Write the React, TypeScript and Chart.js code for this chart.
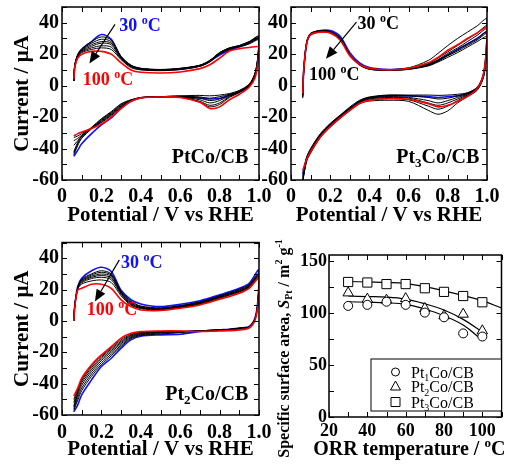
import React, { useEffect, useRef } from 'react';
import { Chart, registerables } from 'chart.js';
Chart.register(...registerables);

const FONT = '"Liberation Serif", "Times New Roman", Times, serif';
const BLUE = '#1010ff';
const RED = '#ff0000';

// ---------- CV data (current in µA) ----------
const temperatures = [30, 40, 50, 60, 70, 80, 90, 100];
const xAnodic = [0.06, 0.065, 0.08, 0.1, 0.15, 0.2, 0.25, 0.3, 0.35, 0.4, 0.5, 0.6, 0.7, 0.75, 0.8, 0.85, 0.9, 0.95, 1.0];
const xCathodic = [1.0, 0.995, 0.98, 0.95, 0.9, 0.85, 0.8, 0.75, 0.7, 0.6, 0.5, 0.4, 0.35, 0.3, 0.25, 0.2, 0.15, 0.1, 0.08, 0.06];

const ptcoAnodic = [
  [3, 12, 19, 23, 28, 32.5, 29.5, 18, 12.5, 10.5, 9.8, 10.5, 12.5, 15.5, 19.5, 22.5, 24.5, 27, 30],
  [3, 13, 20, 23.5, 28, 31, 29, 18.5, 13, 11, 10.3, 11, 13, 16, 21, 24, 25.5, 28, 31.5],
  [3, 13, 19.5, 23, 27, 29.5, 28, 18.5, 13, 11, 10.2, 11, 13, 16, 21, 24, 25.5, 28, 31],
  [3, 13, 19.5, 22.5, 26, 28, 27, 18, 12.5, 10.8, 10, 10.8, 12.8, 15.8, 20.8, 23.8, 25.2, 27.8, 30.5],
  [3, 13, 19, 22, 25, 27, 26, 17.5, 12.5, 10.8, 10, 10.7, 12.7, 15.5, 20.5, 23.5, 25, 27.5, 30],
  [3, 12.5, 18.5, 21.5, 24, 25.3, 24.5, 17, 12, 10.5, 9.8, 10.5, 12.5, 15.3, 20.2, 23.3, 25, 27, 29.5],
  [3, 12.5, 18, 21, 23, 24, 23, 16.5, 11.5, 10, 9.5, 10.2, 12.3, 15, 20, 23, 24.8, 26.5, 29],
  [4, 12, 17.5, 20, 21.8, 21.8, 20, 14.5, 10, 8.5, 8, 8.7, 10.8, 13.3, 17.5, 22, 23.5, 24.2, 24.5],
];
const ptcoCathodic = [
  [30, 18, 7, 0, -4, -6, -8, -8.5, -7.8, -7, -7.2, -7.8, -10, -14.5, -20.5, -25, -30.5, -37, -41, -45],
  [31.5, 19, 8, 1, -3, -5, -6, -6.5, -6.2, -6.5, -7, -7.5, -9, -11.5, -16.5, -21, -26.5, -32, -36, -42],
  [31, 19, 8, 0.5, -3.5, -5.5, -7, -8, -7.2, -6.7, -7, -7.6, -9.2, -12, -17, -21.5, -27, -33, -37, -43],
  [30.5, 18, 7, 0.5, -3.5, -6, -8.5, -9.5, -8, -7, -7.1, -7.7, -9.4, -12.5, -17.5, -22, -27.5, -33.5, -38, -44],
  [30, 18, 7, 0, -4, -6.5, -9.5, -11, -9, -7.2, -7.1, -7.7, -9.5, -13, -18, -22.5, -27, -32, -35, -38],
  [29.5, 18, 6.5, 0, -4, -7, -11, -12.5, -10, -7.3, -7.2, -7.8, -9.7, -13.5, -18.5, -23, -27, -31.5, -33.5, -35],
  [29, 17, 6, -0.5, -4.5, -7.5, -12, -13.5, -10.5, -7.4, -7.2, -7.8, -9.8, -14, -19, -23.5, -27, -30.5, -32, -33],
  [24.5, 15, 5, -1, -5.5, -9, -13.5, -14.5, -10.5, -7.5, -7.2, -7.8, -10, -14.5, -20, -24.5, -27.3, -29.5, -30.5, -32],
];

const pt3coAnodic = [
  [-5, 10, 27, 33, 35, 35, 31.5, 21, 14.5, 11.5, 10.3, 11, 13.5, 16, 19.5, 23, 26.5, 30, 34],
  [-5, 11, 28, 33, 35, 34.5, 30.5, 19.5, 13.5, 11, 10.2, 11.3, 16, 20.5, 25.5, 30, 34, 38, 42.5],
  [-6, 10, 27.5, 33, 35, 34.5, 30.5, 20, 13.8, 11, 10, 11, 14, 17.5, 21.5, 25.5, 29.5, 33.5, 38],
  [-6, 10, 27.5, 33, 34.8, 34, 30, 19.5, 13.5, 10.8, 10, 10.8, 13.5, 16.5, 20.5, 24, 28, 32, 36],
  [-7, 9, 27, 32.5, 34.5, 34, 30, 19.5, 13.3, 10.6, 9.8, 10.6, 13, 16, 19.5, 23, 26.5, 30, 34],
  [-7, 9, 27, 32.5, 34.5, 33.8, 29.5, 19.2, 13.2, 10.5, 9.7, 10.5, 12.8, 15.5, 19, 22, 25.5, 29, 33],
  [-8, 9, 26.5, 32, 34, 33.5, 29.5, 19, 13, 10.4, 9.6, 10.3, 12.5, 15, 18, 21, 24.5, 28, 31],
  [-5, 10, 27, 32.5, 34, 33.5, 29, 19, 13.5, 11, 10, 11, 14.5, 18, 22.5, 26, 30, 33.5, 37],
];
const pt3coCathodic = [
  [34, 18, 5, -1.5, -5, -6.5, -7, -7.5, -7, -6.5, -6.5, -7.8, -10, -14.5, -19.5, -25, -31.5, -41, -46, -56],
  [42.5, 22, 7, -1, -4.5, -5.5, -6, -6.2, -6, -6, -5.9, -7.2, -9.3, -13.6, -18.8, -24, -30.5, -40, -45.5, -57],
  [38, 20, 6, -1.5, -5, -6.5, -8, -8.5, -7.5, -6.5, -6.3, -7.5, -9.8, -14.2, -19.3, -24.5, -31, -40.5, -46, -58],
  [36, 19, 5.5, -1.5, -5.5, -7.5, -9.5, -11, -9.5, -7.5, -7, -8, -10.3, -14.7, -19.8, -25, -31.5, -41, -46.5, -59],
  [34, 18, 5, -2, -6, -8.5, -11, -12.5, -11, -8, -7.5, -8.5, -10.8, -15.2, -20.2, -25.5, -32, -41.5, -47, -60],
  [33, 17, 5, -2.5, -6.5, -9.5, -13, -15, -13, -9, -8.2, -9, -11, -15.5, -20.5, -26, -32, -42, -47.5, -60],
  [31, 16, 4.5, -3, -7, -11, -16, -18.2, -15.7, -10, -9.3, -9.8, -11.5, -16, -21, -26.5, -33, -43, -48, -61],
  [37, 20, 6, -2, -7, -10, -12.5, -13.5, -11.5, -8.7, -8.3, -9.3, -11.4, -15.7, -20.5, -26, -32.6, -42, -47, -54],
];

const pt2coAnodic = [
  [0, 10, 22, 27.2, 32, 34.2, 31.5, 19.5, 13.5, 10.8, 9.1, 10.6, 12.9, 14.6, 16.6, 18.6, 20.8, 24, 32.5],
  [0, 10, 21.5, 26.5, 30, 32, 30, 19, 12.5, 9.5, 8.3, 9.8, 12.2, 14, 16, 18, 20.2, 23.3, 30.5],
  [0, 10, 21.3, 26, 29.3, 31, 29.3, 18.5, 12, 9.2, 8, 9.5, 11.9, 13.7, 15.7, 17.7, 19.8, 22.8, 30],
  [0, 10, 21, 25.5, 28.5, 29.9, 28.5, 18, 11.5, 8.8, 7.7, 9.2, 11.6, 13.4, 15.4, 17.4, 19.4, 22.4, 29.5],
  [0, 10, 20.8, 25, 27.8, 28.9, 27.5, 17.5, 11, 8.5, 7.4, 9, 11.3, 13.1, 15.1, 17.1, 19, 22, 29],
  [0, 9.5, 20.5, 24.3, 27, 27.8, 26.3, 17, 10.5, 8.2, 7.2, 8.7, 11, 12.8, 14.8, 16.7, 18.7, 21.6, 28.5],
  [0, 9.5, 20.2, 23.5, 25.5, 26.1, 24.5, 16, 10, 7.8, 7, 8.5, 10.7, 12.4, 14.4, 16.3, 18.3, 21.2, 28],
  [0, 9, 19.7, 20.8, 23.4, 23.4, 20.8, 13.4, 9.1, 7, 6.6, 8.1, 10.2, 11.9, 13.8, 15.6, 17.6, 20.8, 27.2],
];
const pt2coCathodic = [
  [32.5, 14, 2, -3.5, -4.5, -5.3, -5.7, -6.2, -6.7, -8.5, -8.9, -9.8, -12.1, -17.4, -23.8, -29.1, -37.6, -47.1, -53.5, -58],
  [30.5, 13, 1.5, -3.8, -4.7, -5.4, -5.7, -6, -6.3, -7.5, -8.3, -9.3, -11.3, -16.3, -22.3, -27.8, -35.3, -44.5, -50.5, -57],
  [30, 13, 1.5, -3.8, -4.7, -5.4, -5.7, -6, -6.3, -7.2, -7.8, -8.9, -10.7, -15.5, -21.2, -26.6, -33.8, -42.8, -48.8, -56],
  [29.5, 12.5, 1.5, -3.8, -4.7, -5.4, -5.7, -6, -6.3, -6.9, -7.4, -8.5, -10.2, -14.5, -20, -25.3, -32.3, -41, -47, -55],
  [29, 12.5, 1, -4, -4.8, -5.5, -5.8, -6.1, -6.4, -6.8, -7.1, -8.1, -9.6, -13.7, -19, -24.2, -31, -39.5, -45.5, -54],
  [28.5, 12, 1, -4, -5, -5.6, -5.9, -6.2, -6.5, -6.7, -6.9, -7.7, -9.1, -12.9, -18, -23.2, -29.8, -38.3, -44.5, -52],
  [28, 12, 1, -4.2, -5.2, -5.8, -6, -6.3, -6.6, -6.6, -6.7, -7.3, -8.6, -12, -17.2, -22.4, -28.8, -37.3, -43.7, -50],
  [27.2, 11, 0.5, -4.5, -5.7, -6.2, -6.4, -6.6, -6.8, -6.4, -6.4, -6.8, -7.9, -11, -16.4, -21.7, -28, -36.5, -42.9, -48],
];

// ---------- Surface area data (m2/g) ----------
const orrTemps = [30, 40, 50, 60, 70, 80, 90, 100];
const pt1coSurface = [107, 108, 111, 108, 100.5, 96, 80.5, 77.5];
const pt2coSurface = [119.5, 113.5, 112.5, 114, 104.5, 97.5, 99, 83];
const pt3coSurface = [130, 129.5, 128, 128, 124, 120.5, 116.5, 110.5];
const fitTempsShort = [30, 40, 50, 60, 70, 80, 90, 100];
const fitTempsLong = [30, 40, 50, 60, 70, 80, 90, 100, 110];
const pt1coFit = [111, 110.5, 110, 108.5, 104, 97.5, 88.5, 74];
const pt2coFit = [116.5, 116, 115.5, 113.5, 109, 103, 94, 82];
const pt3coFit = [130.5, 130, 129.5, 128.5, 125.5, 121.5, 117, 112, 105];

// ---------- helpers ----------
type Seg = { t: string; s?: 'sub' | 'sup'; i?: boolean };

function drawRich(ctx: CanvasRenderingContext2D, segs: Seg[], x: number, y: number, size: number, color: string, bold: boolean, align: 'left' | 'center' | 'right', rot = 0) {
  const fontOf = (s: Seg) => `${s.i ? 'italic ' : ''}${bold ? 'bold ' : ''}${s.s ? Math.round(size * 0.65) : size}px ${FONT}`;
  ctx.save();
  ctx.translate(x, y);
  if (rot) ctx.rotate(rot);
  ctx.fillStyle = color;
  ctx.textAlign = 'left';
  ctx.textBaseline = 'alphabetic';
  let w = 0;
  for (const s of segs) { ctx.font = fontOf(s); w += ctx.measureText(s.t).width; }
  let cx = align === 'center' ? -w / 2 : align === 'right' ? -w : 0;
  for (const s of segs) {
    ctx.font = fontOf(s);
    const dy = s.s === 'sub' ? size * 0.22 : s.s === 'sup' ? -size * 0.4 : 0;
    ctx.fillText(s.t, cx, dy);
    cx += ctx.measureText(s.t).width;
  }
  ctx.restore();
}

function drawArrow(ctx: CanvasRenderingContext2D, x1: number, y1: number, x2: number, y2: number) {
  const ang = Math.atan2(y2 - y1, x2 - x1);
  const hl = 12, hw = 5;
  const bx = x2 - hl * Math.cos(ang), by = y2 - hl * Math.sin(ang);
  ctx.save();
  ctx.strokeStyle = '#000';
  ctx.fillStyle = '#000';
  ctx.lineWidth = 1.2;
  ctx.beginPath(); ctx.moveTo(x1, y1); ctx.lineTo(bx, by); ctx.stroke();
  ctx.beginPath();
  ctx.moveTo(x2, y2);
  ctx.lineTo(bx + hw * Math.sin(ang), by - hw * Math.cos(ang));
  ctx.lineTo(bx - hw * Math.sin(ang), by + hw * Math.cos(ang));
  ctx.closePath(); ctx.fill();
  ctx.restore();
}

interface Note { x: number; y: number; segs: Seg[]; color: string; size: number; align: 'left' | 'center' | 'right' }
interface ArrowSpec { x1: number; y1: number; x2: number; y2: number }
interface FrameSpec { xMinor: number; yMinor: number; notes: Note[]; arrows: ArrowSpec[]; extra?: (chart: any) => void }

function framePlugin(spec: FrameSpec) {
  return {
    id: 'frame',
    afterDatasetsDraw(chart: any) {
      const { ctx, chartArea: a, scales } = chart;
      const xs = scales.x, ys = scales.y;
      ctx.save();
      ctx.strokeStyle = '#000';
      ctx.lineWidth = 1;
      const L = 5;
      ctx.beginPath();
      const nx0 = Math.ceil(xs.min / spec.xMinor - 1e-6), nx1 = Math.floor(xs.max / spec.xMinor + 1e-6);
      for (let n = nx0; n <= nx1; n++) {
        const p = Math.round(xs.getPixelForValue(n * spec.xMinor)) + 0.5;
        ctx.moveTo(p, a.bottom); ctx.lineTo(p, a.bottom - L);
        ctx.moveTo(p, a.top); ctx.lineTo(p, a.top + L);
      }
      const ny0 = Math.ceil(ys.min / spec.yMinor - 1e-6), ny1 = Math.floor(ys.max / spec.yMinor + 1e-6);
      for (let n = ny0; n <= ny1; n++) {
        const p = Math.round(ys.getPixelForValue(n * spec.yMinor)) + 0.5;
        ctx.moveTo(a.left, p); ctx.lineTo(a.left + L, p);
        ctx.moveTo(a.right, p); ctx.lineTo(a.right - L, p);
      }
      ctx.stroke();
      ctx.lineWidth = 1.5;
      ctx.strokeRect(a.left, a.top, a.right - a.left, a.bottom - a.top);
      ctx.restore();
      for (const ar of spec.arrows) {
        drawArrow(ctx, xs.getPixelForValue(ar.x1), ys.getPixelForValue(ar.y1), xs.getPixelForValue(ar.x2), ys.getPixelForValue(ar.y2));
      }
      for (const n of spec.notes) {
        drawRich(ctx, n.segs, xs.getPixelForValue(n.x), ys.getPixelForValue(n.y), n.size, n.color, true, n.align);
      }
      if (spec.extra) spec.extra(chart);
    },
  };
}

const degC = (num: string): Seg[] => [{ t: num + ' ' }, { t: 'o', s: 'sup' }, { t: 'C' }];

interface CvPanel {
  anodic: number[][];
  cathodic: number[][];
  yTitle: boolean;
  yWidth: number;
  xHeight: number;
  padTop: number;
  padRight: number;
  xTickPad: number;
  xTitlePad: number;
  spec: FrameSpec;
}

const fixX = (h: number) => (s: any) => { s.height = h; s.paddingLeft = 0; s.paddingRight = 0; };
const fixY = (w: number) => (s: any) => { s.width = w; s.paddingTop = 0; s.paddingBottom = 0; };

function cvConfig(p: CvPanel): any {
  const n = p.anodic.length;
  const datasets = p.anodic.map((a, i) => {
    const pts = xAnodic.map((x, j) => ({ x, y: a[j] })).concat(
      xCathodic.slice(1).map((x, j) => ({ x, y: p.cathodic[i][j + 1] }))
    );
    const color = i === 0 ? BLUE : i === n - 1 ? RED : '#000';
    return {
      label: `${temperatures[i]} °C`,
      data: pts,
      borderColor: color,
      backgroundColor: color,
      borderWidth: i === 0 || i === n - 1 ? 1.6 : 1,
      pointRadius: 0,
      showLine: true,
      tension: 0.3,
      fill: false,
      order: i === n - 1 ? 0 : i === 0 ? 2 : 1,
    };
  });
  const tickFont = { family: FONT, size: 20, weight: 'bold' as const };
  const titleFont = { family: FONT, size: 21, weight: 'bold' as const };
  return {
    type: 'scatter',
    data: { datasets },
    options: {
      responsive: false,
      maintainAspectRatio: false,
      animation: false,
      events: [],
      layout: { padding: { left: 0, right: p.padRight, top: p.padTop, bottom: 0 } },
      plugins: { legend: { display: false }, tooltip: { enabled: false } },
      scales: {
        x: {
          type: 'linear', min: 0, max: 1,
          grid: { display: false, drawTicks: false },
          border: { display: false },
          ticks: {
            stepSize: 0.2, includeBounds: false, autoSkip: false, maxRotation: 0,
            padding: p.xTickPad, color: '#000', font: tickFont,
            callback: (v: any) => (Number(v) === 0 ? '0' : Number(v).toFixed(1)),
          },
          title: { display: true, text: 'Potential / V vs RHE', color: '#000', font: titleFont, padding: { top: 0, bottom: p.xTitlePad } },
          afterFit: fixX(p.xHeight),
        },
        y: {
          type: 'linear', min: -60, max: 50,
          grid: { display: false, drawTicks: false },
          border: { display: false },
          ticks: { stepSize: 20, includeBounds: false, autoSkip: false, padding: 3, color: '#000', font: tickFont },
          title: { display: p.yTitle, text: 'Current / μA', color: '#000', font: titleFont, padding: { top: 10, bottom: 0 } },
          afterFit: fixY(p.yWidth),
        },
      },
    },
    plugins: [framePlugin(p.spec)],
  };
}

function drawMarker(ctx: CanvasRenderingContext2D, style: string, x: number, y: number) {
  ctx.save();
  ctx.fillStyle = '#fff';
  ctx.strokeStyle = '#000';
  ctx.lineWidth = 1;
  ctx.beginPath();
  if (style === 'circle') ctx.arc(x, y, 4, 0, Math.PI * 2);
  else if (style === 'triangle') { ctx.moveTo(x, y - 5.5); ctx.lineTo(x + 5, y + 3.5); ctx.lineTo(x - 5, y + 3.5); ctx.closePath(); }
  else ctx.rect(x - 4.5, y - 4.5, 9, 9);
  ctx.fill(); ctx.stroke();
  ctx.restore();
}

const legendItems: { style: string; segs: Seg[] }[] = [
  { style: 'circle', segs: [{ t: 'Pt' }, { t: '1', s: 'sub' }, { t: 'Co/CB' }] },
  { style: 'triangle', segs: [{ t: 'Pt' }, { t: '2', s: 'sub' }, { t: 'Co/CB' }] },
  { style: 'rect', segs: [{ t: 'Pt' }, { t: '3', s: 'sub' }, { t: 'Co/CB' }] },
];

function surfaceConfig(): any {
  const series = [
    { label: 'Pt1Co/CB', vals: pt1coSurface, style: 'circle', r: 4.5, fitX: fitTempsShort, fit: pt1coFit },
    { label: 'Pt2Co/CB', vals: pt2coSurface, style: 'triangle', r: 6, fitX: fitTempsShort, fit: pt2coFit },
    { label: 'Pt3Co/CB', vals: pt3coSurface, style: 'rect', r: 6.5, fitX: fitTempsLong, fit: pt3coFit },
  ];
  const datasets: any[] = [];
  for (const s of series) {
    datasets.push({
      label: s.label,
      data: orrTemps.map((t, i) => ({ x: t, y: s.vals[i] })),
      pointStyle: s.style, pointRadius: s.r, borderWidth: 1,
      borderColor: '#000', backgroundColor: '#fff', showLine: false, order: 0,
    });
    datasets.push({
      label: s.label + ' fit',
      data: s.fitX.map((t, i) => ({ x: t, y: s.fit[i] })),
      pointRadius: 0, borderWidth: 1.2, borderColor: '#000', showLine: true, tension: 0.4, fill: false, order: 1,
    });
  }
  const tickFont = { family: FONT, size: 18, weight: 'bold' as const };
  const extra = (chart: any) => {
    const { ctx, chartArea: a } = chart;
    const bx = a.right - 131, by = a.bottom - 58.5, bw = 131, bh = 52;
    ctx.save();
    ctx.fillStyle = '#fff';
    ctx.fillRect(bx, by, bw, bh);
    ctx.strokeStyle = '#000';
    ctx.lineWidth = 1;
    ctx.strokeRect(bx + 0.5, by + 0.5, bw - 0.5, bh);
    ctx.restore();
    const rows = [a.bottom - 45, a.bottom - 30.5, a.bottom - 15];
    legendItems.forEach((it, i) => {
      drawMarker(ctx, it.style, a.right - 106, rows[i]);
      drawRich(ctx, it.segs, a.right - 90.5, rows[i] + 5.5, 16, '#000', false, 'left');
    });
    drawRich(ctx, [{ t: 'ORR temperature / ' }, { t: 'o', s: 'sup' }, { t: 'C' }], (a.left + a.right) / 2 - 6, a.bottom + 38, 20, '#000', true, 'center');
    drawRich(ctx, [
      { t: 'Specific surface area, ' }, { t: 'S', i: true }, { t: 'Pt', s: 'sub' },
      { t: ' / m' }, { t: '2', s: 'sup' }, { t: ' g' }, { t: '-1', s: 'sup' },
    ], 20.6, 113.5, 16, '#000', true, 'center', -Math.PI / 2);
  };
  return {
    type: 'scatter',
    data: { datasets },
    options: {
      responsive: false,
      maintainAspectRatio: false,
      animation: false,
      events: [],
      layout: { padding: { left: 0, right: 2, top: 20, bottom: 0 } },
      plugins: { legend: { display: false }, tooltip: { enabled: false } },
      scales: {
        x: {
          type: 'linear', min: 20, max: 110,
          grid: { display: false, drawTicks: false }, border: { display: false },
          ticks: { stepSize: 20, includeBounds: false, autoSkip: false, maxRotation: 0, padding: 4, color: '#000', font: tickFont },
          afterFit: fixX(51),
        },
        y: {
          type: 'linear', min: 0, max: 156,
          grid: { display: false, drawTicks: false }, border: { display: false },
          ticks: { stepSize: 50, includeBounds: false, autoSkip: false, padding: 2, color: '#000', font: tickFont },
          afterFit: fixY(61),
        },
      },
    },
    plugins: [framePlugin({ xMinor: 10, yMinor: 25, notes: [], arrows: [], extra })],
  };
}

function ChartBox(props: { left: number; top: number; width: number; height: number; make: () => any }) {
  const ref = useRef<HTMLCanvasElement>(null);
  useEffect(() => {
    const chart = new Chart(ref.current as HTMLCanvasElement, props.make());
    return () => chart.destroy();
  }, []);
  return (
    <canvas
      ref={ref}
      width={props.width}
      height={props.height}
      style={{ position: 'absolute', left: props.left, top: props.top, width: props.width, height: props.height }}
    />
  );
}

export default function App() {
  const p1: CvPanel = {
    anodic: ptcoAnodic, cathodic: ptcoCathodic, yTitle: true, yWidth: 62, xHeight: 50, padTop: 7, padRight: 16, xTickPad: 4.5, xTitlePad: 2,
    spec: {
      xMinor: 0.1, yMinor: 10,
      arrows: [{ x1: 0.269, y1: 39, x2: 0.139, y2: 14 }],
      notes: [
        { x: 0.291, y: 34.7, segs: degC('30'), color: BLUE, size: 18, align: 'left' },
        { x: 0.105, y: 0.2, segs: degC('100'), color: RED, size: 18, align: 'left' },
        { x: 0.946, y: -49.5, segs: [{ t: 'PtCo/CB' }], color: '#000', size: 20, align: 'right' },
      ],
    },
  };
  const p2: CvPanel = {
    anodic: pt3coAnodic, cathodic: pt3coCathodic, yTitle: false, yWidth: 36, xHeight: 50, padTop: 7, padRight: 22, xTickPad: 4.5, xTitlePad: 2,
    spec: {
      xMinor: 0.1, yMinor: 10,
      arrows: [{ x1: 0.334, y1: 40.4, x2: 0.178, y2: 17.1 }],
      notes: [
        { x: 0.339, y: 35.8, segs: degC('30'), color: '#000', size: 18, align: 'left' },
        { x: 0.092, y: 3.4, segs: degC('100'), color: '#000', size: 18, align: 'left' },
        { x: 0.961, y: -48.9, segs: [{ t: 'Pt' }, { t: '3', s: 'sub' }, { t: 'Co/CB' }], color: '#000', size: 20, align: 'right' },
      ],
    },
  };
  const p3: CvPanel = {
    anodic: pt2coAnodic, cathodic: pt2coCathodic, yTitle: true, yWidth: 62, xHeight: 53, padTop: 7.5, padRight: 16, xTickPad: 6, xTitlePad: 6,
    spec: {
      xMinor: 0.1, yMinor: 10,
      arrows: [{ x1: 0.291, y1: 38.9, x2: 0.167, y2: 12.3 }],
      notes: [
        { x: 0.3, y: 33.6, segs: degC('30'), color: BLUE, size: 18, align: 'left' },
        { x: 0.125, y: 3.8, segs: degC('100'), color: RED, size: 18, align: 'left' },
        { x: 0.946, y: -50.3, segs: [{ t: 'Pt' }, { t: '2', s: 'sub' }, { t: 'Co/CB' }], color: '#000', size: 20, align: 'right' },
      ],
    },
  };
  return (
    <div style={{ position: 'fixed', left: 0, top: 0, width: 509, height: 468, background: '#fff', overflow: 'hidden' }}>
      <ChartBox left={0} top={0} width={275} height={230} make={() => cvConfig(p1)} />
      <ChartBox left={255} top={0} width={254} height={230} make={() => cvConfig(p2)} />
      <ChartBox left={0} top={235} width={275} height={233} make={() => cvConfig(p3)} />
      <ChartBox left={268} top={235} width={241} height={233} make={surfaceConfig} />
    </div>
  );
}
